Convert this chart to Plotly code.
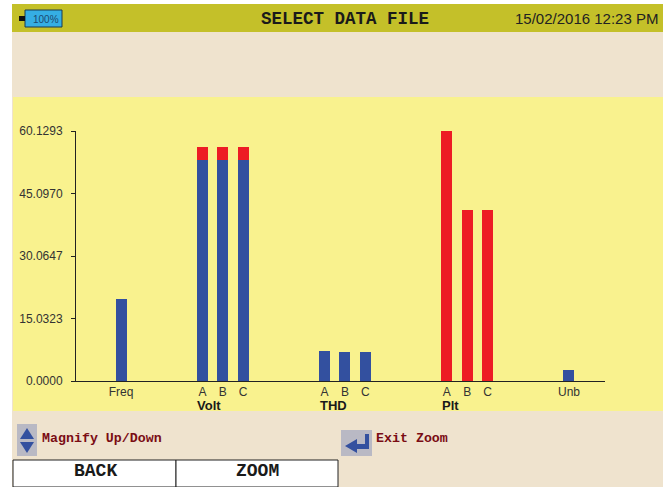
import plotly.graph_objects as go

# Data
slots = [0, 4, 5, 6, 10, 11, 12, 16, 17, 18, 22]
labels = ["Freq", "A", "B", "C", "A", "B", "C", "A", "B", "C", "Unb"]
blue_values = [19.7, 53.2, 53.2, 53.2, 7.2, 7.0, 7.0, 0, 0, 0, 2.7]
red_values = [0, 3.1, 3.1, 3.1, 0, 0, 0, 60.4, 41.1, 41.1, 0]
y_ticks = [0.0, 15.0323, 30.0647, 45.0970, 60.1293]
y_tick_text = ["0.0000", "15.0323", "30.0647", "45.0970", "60.1293"]
groups = [("Volt", 3.75), ("THD", 9.75), ("Plt", 15.75)]

L, R, T, B = 76, 605, 131, 381
W, H = 663, 487


def px(x):
    return (x - L) / (R - L)


def py(y):
    return (B - y) / (B - T)


def rect(x0, y0, x1, y1, fill, line=None, lw=0, layer="below"):
    return dict(type="rect", xref="paper", yref="paper", x0=px(x0), x1=px(x1),
                y0=py(y0), y1=py(y1), fillcolor=fill, layer=layer,
                line=dict(color=line or fill, width=lw))


def poly(pts, fill):
    d = "M " + " L ".join(f"{px(a):.5f} {py(b):.5f}" for a, b in pts) + " Z"
    return dict(type="path", xref="paper", yref="paper", path=d, fillcolor=fill,
                line=dict(width=0), layer="above")


def label(x, y, text, size, color, family, anchor="left", bold=False):
    if bold:
        text = f"<b>{text}</b>"
    return dict(xref="paper", yref="paper", x=px(x), y=py(y), text=text, showarrow=False,
                xanchor=anchor, yanchor="middle", xshift=0, yshift=0,
                font=dict(size=size, color=color, family=family))


SANS = "Liberation Sans"
MONO = "Liberation Mono"

fig = go.Figure()
fig.add_bar(x=slots, y=blue_values, marker=dict(color="#33509F", line=dict(width=0)), width=0.54, cliponaxis=False)
fig.add_bar(x=slots, y=red_values, marker=dict(color="#ED1C24", line=dict(width=0)), width=0.54, cliponaxis=False)

shapes = [
    rect(0, 0, W, H, "#FFFFFF"),
    rect(12, 4, W, H, "#EFE3CE"),
    rect(12, 4, W, 32, "#C4C029"),
    rect(13, 97, W, 411, "#F9F28E"),
    rect(25, 10, 62, 27, "#35AEE4", "#1A3A50", 1, "above"),
    rect(19, 16, 25, 21, "#111111", layer="above"),
    rect(17, 424, 37, 456, "#B9B9C4", layer="above"),
    poly([(27, 428), (34, 439), (20, 439)], "#33509F"),
    poly([(27, 453), (34, 442), (20, 442)], "#33509F"),
    rect(341, 430, 372, 456, "#B9B9C4", layer="above"),
    poly([(369, 434), (369, 449), (357, 449), (357, 453), (345, 446), (357, 439), (357, 444), (365, 444), (365, 434)], "#33509F"),
    rect(13, 460, 176, H, "#FFFFFF", "#222222", 1, "above"),
    rect(176, 460, 338, H, "#FFFFFF", "#222222", 1, "above"),
]

annotations = [
    label(31, 19, "100%", 10, "#1C4A70", SANS, "left"),
    label(345, 19, "SELECT DATA FILE", 17.5, "#1A1A1A", MONO, "center", True),
    label(513, 18, "15/02/2016 12:23 PM", 15, "#222222", SANS, "left"),
    label(40, 438, "Magnify Up/Down", 13.3, "#7A0C14", MONO, "left", True),
    label(374, 438, "Exit Zoom", 13.3, "#7A0C14", MONO, "left", True),
    label(95, 471, "BACK", 18, "#1A1A1A", MONO, "center", True),
    label(257, 471, "ZOOM", 18, "#1A1A1A", MONO, "center", True),
]
for text, slot in groups:
    annotations.append(dict(xref="x", yref="paper", x=slot, y=py(405), text=f"<b>{text}</b>", showarrow=False,
                            xanchor="left", yanchor="middle", xshift=-2,
                            font=dict(size=13, color="#1A1A1A", family=SANS)))

fig.update_layout(
    width=W, height=H, barmode="stack", showlegend=False,
    paper_bgcolor="#FFFFFF", plot_bgcolor="rgba(0,0,0,0)",
    margin=dict(l=L, r=W - R, t=T, b=H - B, pad=0),
    shapes=shapes, annotations=annotations,
    xaxis=dict(range=[-2.21, 23.77], tickmode="array", tickvals=slots, ticktext=labels,
               showgrid=False, zeroline=False, showline=True, linecolor="#222222", linewidth=1,
               ticks="", ticklen=0, tickangle=0, tickfont=dict(size=12, color="#333333", family=SANS)),
    yaxis=dict(range=[0, 60.1293], tickmode="array", tickvals=y_ticks, ticktext=y_tick_text,
               showgrid=False, zeroline=False, showline=True, linecolor="#222222", linewidth=1,
               ticks="outside", ticklen=4, tickcolor="#222222", ticklabelstandoff=6,
               tickfont=dict(size=12, color="#333333", family=SANS)),
)
fig.write_html("out.html", config=dict(displayModeBar=False),
               post_script="document.body.style.margin='0';")
